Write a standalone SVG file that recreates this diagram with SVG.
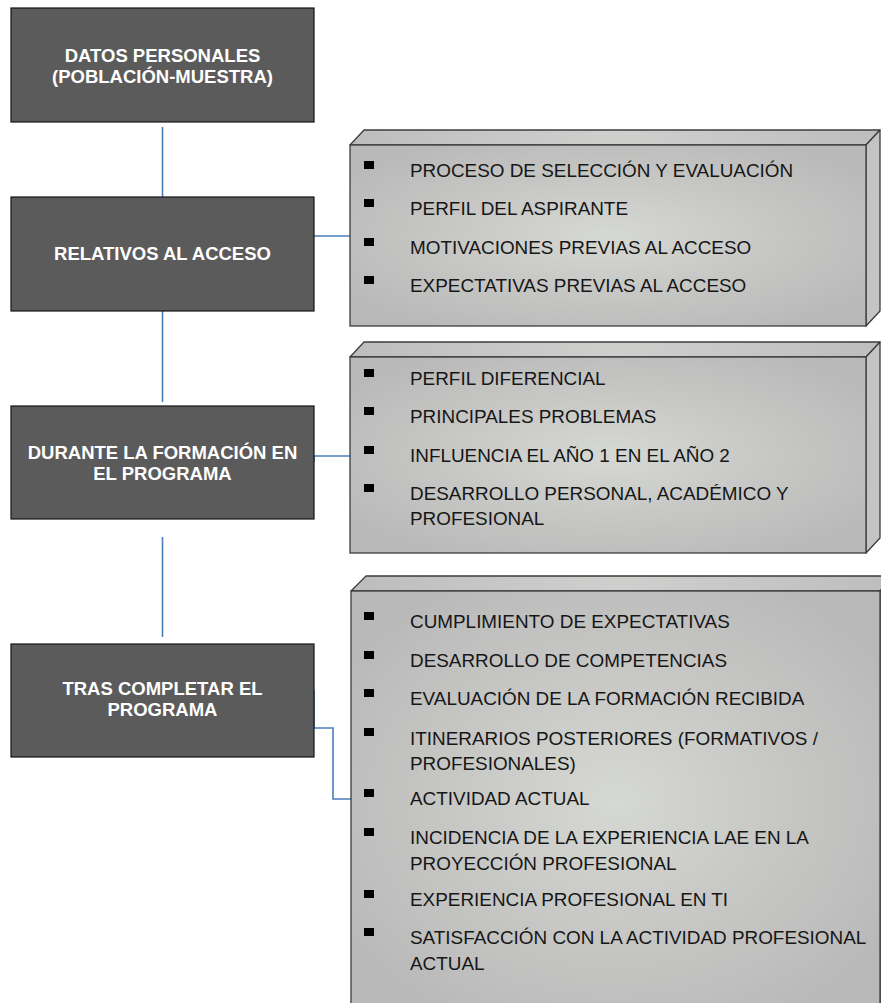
<svg xmlns="http://www.w3.org/2000/svg" width="881" height="1003" viewBox="0 0 881 1003">
  <style>
    .box rect { fill: #5b5b5b; stroke: #141414; stroke-width: 1.2; }
    .box text { fill: #ffffff; font-family: "Liberation Sans", Arial, sans-serif; font-weight: bold; font-size: 18.5px; text-anchor: middle; }
    .panel .front { fill: url(#frontShade); stroke: #3c3c3c; stroke-width: 1.3; }
    .panel .top { fill: url(#topShade); stroke: #3c3c3c; stroke-width: 1.3; stroke-linejoin: round; }
    .panel .side { fill: #c4c4c4; stroke: #3c3c3c; stroke-width: 1.3; stroke-linejoin: round; }
    .panel text { fill: #161616; font-family: "Liberation Sans", Arial, sans-serif; font-size: 18.9px; }
    .panel .bullet { fill: #000000; stroke: none; }
    .connectors path { fill: none; stroke: #4a7ebb; stroke-width: 1.6; }
  </style>
  <defs>
    <radialGradient id="frontShade" cx="0.5" cy="0.5" r="0.6">
      <stop offset="0" stop-color="#d6d8d3"/>
      <stop offset="1" stop-color="#b9b9b9"/>
    </radialGradient>
    <linearGradient id="topShade" x1="0" y1="0" x2="1" y2="0">
      <stop offset="0" stop-color="#bdbdbd"/>
      <stop offset="0.5" stop-color="#cfd0ce"/>
      <stop offset="1" stop-color="#bdbdbd"/>
    </linearGradient>
  </defs>

  <rect width="881" height="1003" fill="#ffffff"/>

  <!-- connectors -->
  <g class="connectors">
    <path d="M162.5,127 V197"/>
    <path d="M162.5,311 V402"/>
    <path d="M162.5,537 V637"/>
    <path d="M314,236 H350"/>
    <path d="M314,462 V456 H350"/>
    <path d="M314,690 V728 H333 V799 H351"/>
  </g>

  <!-- category boxes -->
  <g id="datos-personales" class="box">
    <rect x="11" y="8" width="303" height="114"/>
    <text x="162.5" y="62">DATOS PERSONALES</text>
    <text x="162.5" y="83">(POBLACIÓN-MUESTRA)</text>
  </g>
  <g id="relativos-acceso" class="box">
    <rect x="11" y="197" width="303" height="114"/>
    <text x="162.5" y="260">RELATIVOS AL ACCESO</text>
  </g>
  <g id="durante-formacion" class="box">
    <rect x="11" y="406" width="303" height="113"/>
    <text x="162.5" y="459">DURANTE LA FORMACIÓN EN</text>
    <text x="162.5" y="480">EL PROGRAMA</text>
  </g>
  <g id="tras-completar" class="box">
    <rect x="11" y="644" width="303" height="113"/>
    <text x="162.5" y="695">TRAS COMPLETAR EL</text>
    <text x="162.5" y="716">PROGRAMA</text>
  </g>

  <!-- detail panels -->
  <g id="panel-acceso" class="panel">
    <polygon class="top" points="350,145 364,130 880,130 866,145"/>
    <polygon class="side" points="866,145 880,130 880,311 866,326"/>
    <rect class="front" x="350" y="145" width="516" height="181"/>
    <rect class="bullet" x="364" y="161" width="10" height="8"/>
    <text x="410" y="177">PROCESO DE SELECCIÓN Y EVALUACIÓN</text>
    <rect class="bullet" x="364" y="199" width="10" height="8"/>
    <text x="410" y="215">PERFIL DEL ASPIRANTE</text>
    <rect class="bullet" x="364" y="238" width="10" height="8"/>
    <text x="410" y="254">MOTIVACIONES PREVIAS AL ACCESO</text>
    <rect class="bullet" x="364" y="276" width="10" height="8"/>
    <text x="410" y="292">EXPECTATIVAS PREVIAS AL ACCESO</text>
  </g>

  <g id="panel-formacion" class="panel">
    <polygon class="top" points="350,357 364,342 880,342 866,357"/>
    <polygon class="side" points="866,357 880,342 880,538 866,553"/>
    <rect class="front" x="350" y="357" width="516" height="196"/>
    <rect class="bullet" x="364" y="369" width="10" height="8"/>
    <text x="410" y="385">PERFIL DIFERENCIAL</text>
    <rect class="bullet" x="364" y="407" width="10" height="8"/>
    <text x="410" y="423">PRINCIPALES PROBLEMAS</text>
    <rect class="bullet" x="364" y="446" width="10" height="8"/>
    <text x="410" y="462">INFLUENCIA EL AÑO 1 EN EL AÑO 2</text>
    <rect class="bullet" x="364" y="484" width="10" height="8"/>
    <text x="410" y="500">DESARROLLO PERSONAL, ACADÉMICO Y</text>
    <text x="410" y="525">PROFESIONAL</text>
  </g>

  <g id="panel-tras" class="panel">
    <polygon class="top" points="351,591 366,576 895,576 880,591"/>
    <polygon class="side" points="880,591 895,576 895,1010 880,1010"/>
    <rect class="front" x="351" y="591" width="529" height="420"/>
    <rect class="bullet" x="364" y="612" width="10" height="8"/>
    <text x="410" y="628">CUMPLIMIENTO DE EXPECTATIVAS</text>
    <rect class="bullet" x="364" y="651" width="10" height="8"/>
    <text x="410" y="667">DESARROLLO DE COMPETENCIAS</text>
    <rect class="bullet" x="364" y="689" width="10" height="8"/>
    <text x="410" y="705">EVALUACIÓN DE LA FORMACIÓN RECIBIDA</text>
    <rect class="bullet" x="364" y="728" width="10" height="8"/>
    <text x="410" y="745">ITINERARIOS POSTERIORES (FORMATIVOS /</text>
    <text x="410" y="770">PROFESIONALES)</text>
    <rect class="bullet" x="364" y="789" width="10" height="8"/>
    <text x="410" y="805">ACTIVIDAD ACTUAL</text>
    <rect class="bullet" x="364" y="828" width="10" height="8"/>
    <text x="410" y="844">INCIDENCIA DE LA EXPERIENCIA LAE EN LA</text>
    <text x="410" y="870">PROYECCIÓN PROFESIONAL</text>
    <rect class="bullet" x="364" y="890" width="10" height="8"/>
    <text x="410" y="906">EXPERIENCIA PROFESIONAL EN TI</text>
    <rect class="bullet" x="364" y="928" width="10" height="8"/>
    <text x="410" y="944">SATISFACCIÓN CON LA ACTIVIDAD PROFESIONAL</text>
    <text x="410" y="970">ACTUAL</text>
  </g>
</svg>
